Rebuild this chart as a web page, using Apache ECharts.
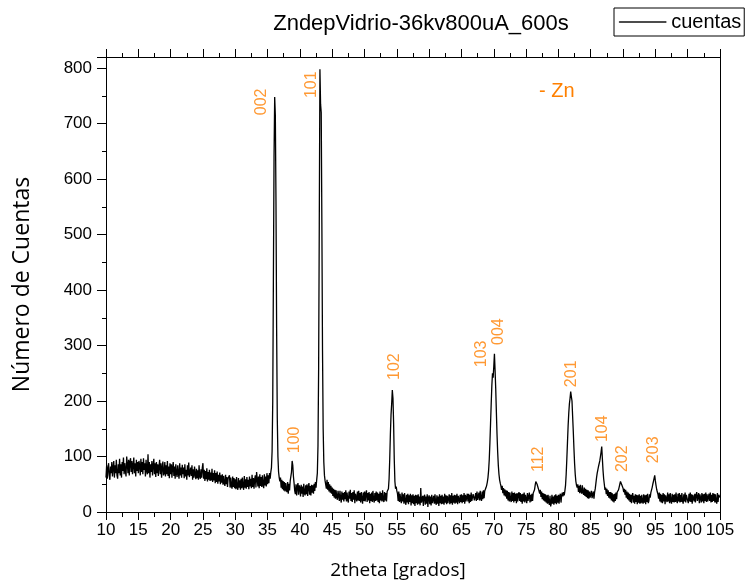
<!DOCTYPE html>
<html>
<head>
<meta charset="utf-8">
<script src="https://cdn.jsdelivr.net/npm/echarts@6/dist/echarts.min.js"></script>
<style>html,body{margin:0;padding:0;background:#fff}#c{width:750px;height:584px}</style>
</head>
<body>
<div id="c"></div>
<script>
// Sampling grid of the pattern (2theta, degrees)
const twoThetaStart = 10;
const twoThetaStep = 0.1;
// Counts, one row per degree (10 samples of 0.1 deg)
const cuentas = [
  62,84,60,78,88,66,58,82,70,90,      // 10
  64,80,92,62,84,70,94,66,60,86,      // 11
  70,96,66,86,62,90,74,98,68,88,      // 12
  74,64,100,86,70,94,66,90,97,72,     // 13
  92,68,84,98,70,88,64,94,74,90,      // 14
  70,92,84,66,96,72,90,68,97,76,      // 15
  88,64,94,74,68,104,70,90,62,86,     // 16
  72,92,66,84,96,68,88,63,90,70,      // 17
  86,65,82,94,68,88,62,80,91,66,      // 18
  70,90,64,84,68,92,65,82,61,88,      // 19
  68,86,62,80,90,65,82,60,86,70,      // 20
  63,84,70,60,88,66,80,62,85,68,      // 21
  80,61,86,64,76,58,84,66,89,63,      // 22
  60,80,65,84,58,77,62,82,68,59,      // 23
  78,61,75,58,84,64,60,77,62,80,      // 24
  88,60,76,56,74,59,79,55,72,58,      // 25
  76,56,71,57,78,54,70,57,75,52,      // 26
  70,54,73,51,67,55,71,50,66,53,      // 27
  68,49,65,52,47,67,50,63,45,61,      // 28
  60,66,44,62,47,42,64,45,61,43,      // 29
  59,41,63,45,40,61,44,57,40,60,      // 30
  43,62,46,40,65,44,59,42,63,45,      // 31
  58,41,64,46,60,43,67,45,61,42,      // 32
  59,66,44,72,60,46,64,43,68,47,      // 33
  63,45,66,49,43,68,48,64,46,70,      // 34
  50,66,52,70,60,72,80,110,200,420,   // 35
  640,748,715,560,330,170,100,72,62,55, // 36
  62,44,58,41,56,39,54,37,52,40,      // 37
  36,54,33,51,39,56,58,72,92,84,      // 38
  64,52,38,32,50,30,46,52,31,48,      // 39
  44,28,49,33,46,27,51,34,30,48,      // 40
  32,50,29,45,52,31,47,30,49,35,      // 41
  48,33,51,38,54,44,58,70,120,260,    // 42
  520,798,735,720,520,290,150,90,66,56, // 43
  56,42,58,40,54,37,50,35,47,33,      // 44
  44,29,42,26,40,24,39,27,22,38,      // 45
  35,20,38,24,17,37,22,34,19,36,      // 46
  23,39,19,35,22,17,37,24,40,20,      // 47
  34,18,36,22,39,16,33,35,19,37,      // 48
  21,38,20,34,17,36,23,15,35,20,      // 49
  37,19,33,39,18,34,21,36,16,33,      // 50
  20,35,18,38,23,17,34,20,37,21,      // 51
  35,18,33,16,37,21,34,19,39,22,      // 52
  18,36,21,34,19,37,36,42,60,95,      // 53
  140,175,195,220,205,160,95,55,42,46, // 54
  38,33,20,37,18,33,21,16,35,19,      // 55
  32,15,34,19,13,31,17,33,14,30,      // 56
  18,33,12,30,16,32,14,29,11,31,      // 57
  16,30,13,32,15,28,12,43,17,14,      // 58
  29,11,27,31,13,28,15,32,9,26,       // 59
  30,14,28,12,31,16,13,29,15,32,      // 60
  17,13,30,15,28,11,32,16,29,14,      // 61
  31,15,28,13,33,17,30,14,29,16,      // 62
  18,32,14,30,16,34,13,29,17,31,      // 63
  15,30,17,33,14,29,32,16,31,18,      // 64
  32,16,30,18,34,15,31,19,17,33,      // 65
  19,33,16,31,18,35,20,17,32,34,      // 66
  21,18,34,20,37,22,19,35,21,38,      // 67
  24,20,37,23,39,25,38,40,44,48,      // 68
  54,62,75,95,125,160,195,228,250,242, // 69
  262,285,255,222,180,140,108,84,68,58, // 70
  52,47,40,47,34,43,30,41,28,39,      // 71
  24,38,21,36,19,35,22,18,37,20,      // 72
  34,17,35,20,33,16,34,19,31,36,      // 73
  20,34,18,32,15,33,19,35,17,31,      // 74
  33,16,34,20,18,35,17,31,19,33,      // 75
  20,34,33,40,48,55,58,50,47,42,      // 76
  43,33,40,27,37,23,34,21,33,19,      // 77
  32,17,30,15,31,18,13,29,10,16,      // 78
  31,15,28,13,30,16,32,14,29,17,      // 79
  31,15,29,33,17,30,35,28,36,30,      // 80
  38,48,68,95,125,155,178,195,205,217, // 81
  208,200,172,145,115,88,68,55,48,44, // 82
  50,36,47,34,49,37,33,48,35,31,      // 83
  44,29,42,27,40,25,39,24,37,26,      // 84
  23,38,25,22,37,24,36,42,52,62,      // 85
  70,76,82,85,92,100,108,118,96,75,   // 86
  60,50,40,44,32,42,29,39,26,36,      // 87
  24,36,21,34,19,32,17,33,20,35,      // 88
  23,36,33,40,45,50,55,52,49,46,      // 89
  43,36,42,31,40,26,37,23,35,21,      // 90
  33,18,31,16,30,34,17,29,15,32,      // 91
  18,31,14,30,17,32,15,29,16,31,      // 92
  19,15,32,17,30,14,31,18,33,16,      // 93
  20,32,26,35,38,44,50,55,58,66,      // 94
  56,48,41,36,32,24,35,19,33,17,      // 95
  31,16,34,19,32,14,30,33,18,35,      // 96
  19,32,16,34,20,15,33,18,31,17,      // 97
  32,18,35,20,16,33,19,34,17,31,      // 98
  18,34,20,15,32,19,35,17,31,33,      // 99
  20,16,33,19,35,18,32,15,31,34,      // 100
  19,33,17,31,36,20,18,34,16,32,      // 101
  31,17,34,19,32,16,33,20,35,18,      // 102
  32,19,16,33,20,35,17,31,18,34,      // 103
  20,33,17,32,19,15,34,18,31,33,      // 104
  26                                  // 105
];
// Miller-index annotations (orange), anchored in data coordinates
const peakLabels = ['002','101','100','102','103','004','112','201','104','202','203'];
const peakLabelX = [34.1, 41.8, 39.2, 54.7, 68.1, 70.7, 76.9, 82.05, 86.9, 90.0, 94.7];
const peakLabelY = [715, 746, 106, 238, 261, 301, 72, 225, 126, 72, 88];

const lineData = cuentas.map((v, i) => [+(twoThetaStart + i * twoThetaStep).toFixed(1), v]);
const labelData = peakLabels.map((t, i) => [peakLabelX[i], peakLabelY[i], t]);

const chart = echarts.init(document.getElementById('c'), null, {renderer: 'canvas'});
const black = '#000';
const orange = '#FF8000';
const sans = 'Liberation Sans, Arial, sans-serif';
const tickFont = {fontFamily: sans, fontSize: 17, color: black};

chart.setOption({
  animation: false,
  backgroundColor: '#fff',
  title: [
    {text: 'ZndepVidrio-36kv800uA_600s', left: 416, top: 8, textAlign: 'center',
     textStyle: {fontFamily: sans, fontSize: 22, fontWeight: 'normal', color: black}},
    {text: '- Zn', left: 534, top: 76,
     textStyle: {fontFamily: sans, fontSize: 20, fontWeight: 'normal', color: orange}}
  ],
  legend: {
    left: 614, top: 8,
    data: ['cuentas'],
    icon: 'rect',
    itemWidth: 47, itemHeight: 1, itemGap: 0,
    padding: [4, 3, 4, 5],
    borderColor: black, borderWidth: 1, backgroundColor: '#fff',
    itemStyle: {color: black, borderWidth: 0.4, borderColor: black},
    textStyle: {fontFamily: sans, fontSize: 20, color: black}
  },
  grid: {left: 106, right: 30, top: 57, bottom: 72, containLabel: false, outerBoundsMode: 'none'},
  xAxis: [
    {
      type: 'value', min: 10, max: 105, interval: 5, position: 'bottom',
      name: '2theta [grados]', nameLocation: 'middle', nameGap: 49,
      nameTextStyle: {fontFamily: 'Open Sans, Noto Sans, sans-serif', fontSize: 19, color: black, padding: [0, 30, 0, 0]},
      axisLine: {onZero: false, lineStyle: {color: black, width: 1}},
      axisTick: {inside: false, length: 8, lineStyle: {color: black}},
      minorTick: {show: true, splitNumber: 2, length: 5, lineStyle: {color: black}},
      axisLabel: Object.assign({margin: 10}, tickFont),
      splitLine: {show: false}
    },
    {
      type: 'value', min: 10, max: 105, interval: 5, position: 'top',
      axisLine: {onZero: false, lineStyle: {color: black, width: 1}},
      axisTick: {inside: false, length: 8, lineStyle: {color: black}},
      minorTick: {show: true, splitNumber: 2, length: 4, lineStyle: {color: black}},
      axisLabel: {show: false},
      splitLine: {show: false}
    }
  ],
  yAxis: [
    {
      type: 'value', min: 0, max: 820, interval: 100, position: 'left',
      name: 'Número de Cuentas', nameLocation: 'middle', nameGap: 72,
      nameTextStyle: {fontFamily: 'Open Sans, Noto Sans, sans-serif', fontSize: 23, color: black},
      axisLine: {show: true, onZero: false, lineStyle: {color: black, width: 1}},
      axisTick: {show: true, inside: false, length: 9, lineStyle: {color: black}},
      minorTick: {show: true, splitNumber: 2, length: 4, lineStyle: {color: black}},
      axisLabel: Object.assign({margin: 14, showMaxLabel: false}, tickFont),
      splitLine: {show: false}
    },
    {
      type: 'value', min: 0, max: 820, position: 'right',
      axisLine: {show: true, onZero: false, lineStyle: {color: black, width: 1}},
      axisTick: {show: false}, axisLabel: {show: false}, splitLine: {show: false}
    }
  ],
  series: [
    {
      name: 'cuentas', type: 'line', data: lineData,
      xAxisIndex: 0, yAxisIndex: 0,
      symbol: 'none', showSymbol: false,
      lineStyle: {color: black, width: 1.3},
      itemStyle: {color: black},
      z: 3
    },
    {
      name: 'indices', type: 'scatter', data: labelData,
      xAxisIndex: 0, yAxisIndex: 0,
      symbolSize: 0, silent: true,
      label: {
        show: true, position: [0, 0], rotate: 90, align: 'left', verticalAlign: 'middle',
        formatter: p => p.data[2],
        fontFamily: sans, fontSize: 16, color: orange
      },
      z: 4
    }
  ]
});
</script>
</body>
</html>
